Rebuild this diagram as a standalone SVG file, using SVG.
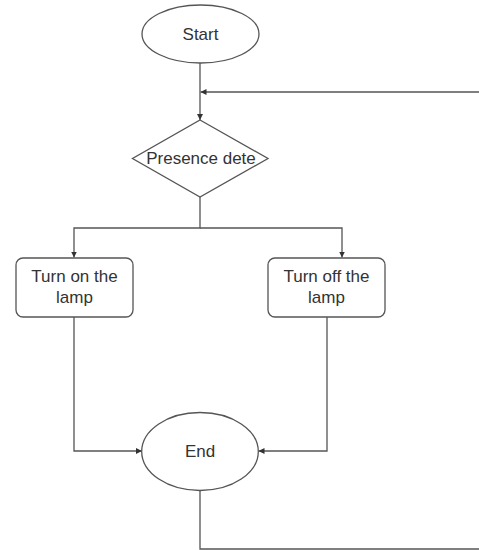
<svg xmlns="http://www.w3.org/2000/svg" width="479" height="550" viewBox="0 0 479 550">
<defs>
<style>
.shape{fill:#fff;stroke:#555;stroke-width:1.3}
.edge{fill:none;stroke:#555;stroke-width:1.3}
text{font-family:"Liberation Sans",Arial,sans-serif;font-size:17px;fill:#333;text-anchor:middle}
</style>
<marker id="arr" viewBox="0 0 10 10" refX="10" refY="5" markerWidth="6" markerHeight="6" markerUnits="userSpaceOnUse" orient="auto">
<path d="M0,0 L10,5 L0,10 Z" fill="#333"/>
</marker>
</defs>
<rect width="479" height="550" fill="#fff"/>
<g id="connectors">
<path class="edge" d="M200,63 V120" marker-end="url(#arr)"/>
<path class="edge" d="M479,92 H200.5" marker-end="url(#arr)"/>
<path class="edge" d="M200,197 V228 H74 V257.5" marker-end="url(#arr)"/>
<path class="edge" d="M200,228 H342 V257.5" marker-end="url(#arr)"/>
<path class="edge" d="M74,317 V451 H142" marker-end="url(#arr)"/>
<path class="edge" d="M327,317 V451 H258.5" marker-end="url(#arr)"/>
<path class="edge" d="M200,491 V549 H479"/>
</g>
<g id="start">
<ellipse class="shape" cx="200.5" cy="34" rx="58.5" ry="29"/>
<text x="200.5" y="40">Start</text>
</g>
<g id="presence">
<polygon class="shape" points="200,120 268,158.5 200,197 132.5,158.5"/>
<text x="201" y="164">Presence dete</text>
</g>
<g id="turn-on">
<rect class="shape" x="16" y="258" width="117" height="59" rx="7"/>
<text x="74.5" y="282">Turn on the</text>
<text x="74.5" y="303">lamp</text>
</g>
<g id="turn-off">
<rect class="shape" x="268" y="258" width="117" height="59" rx="7"/>
<text x="326.5" y="282">Turn off the</text>
<text x="326.5" y="303">lamp</text>
</g>
<g id="end">
<ellipse class="shape" cx="200" cy="451.5" rx="58.3" ry="39"/>
<text x="200" y="457">End</text>
</g>
</svg>
